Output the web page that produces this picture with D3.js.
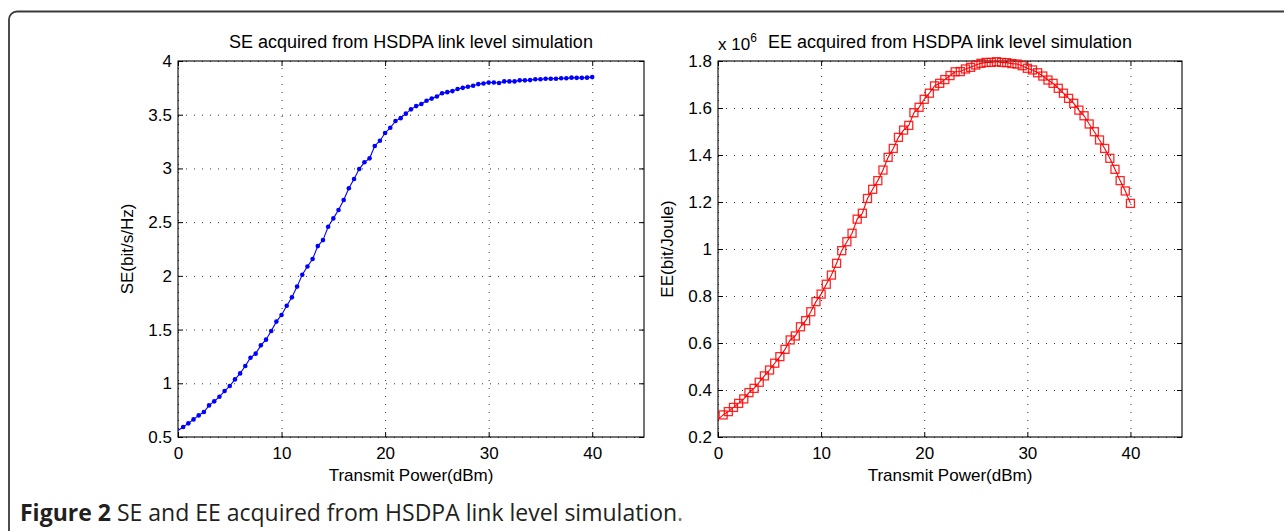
<!DOCTYPE html>
<html>
<head>
<meta charset="utf-8">
<script src="https://cdn.jsdelivr.net/npm/d3@7"></script>
<style>
  html, body { margin: 0; padding: 0; background: #fff; }
  svg { display: block; }
  .tick text { font-family: "Liberation Sans", Arial, sans-serif; font-size: 17px; fill: #000; }
</style>
</head>
<body>
<div id="graph-container"></div>
<script>
// ========== Data ==========
// Transmit power (dBm), one sample every 0.5 dBm
const powerDbm = [
  0, 0.5, 1, 1.5, 2, 2.5, 3, 3.5, 4, 4.5, 5, 5.5, 6, 6.5, 7, 7.5, 8, 8.5, 9, 9.5,
  10, 10.5, 11, 11.5, 12, 12.5, 13, 13.5, 14, 14.5, 15, 15.5, 16, 16.5, 17, 17.5, 18, 18.5, 19, 19.5,
  20, 20.5, 21, 21.5, 22, 22.5, 23, 23.5, 24, 24.5, 25, 25.5, 26, 26.5, 27, 27.5, 28, 28.5, 29, 29.5,
  30, 30.5, 31, 31.5, 32, 32.5, 33, 33.5, 34, 34.5, 35, 35.5, 36, 36.5, 37, 37.5, 38, 38.5, 39, 39.5,
  40
];

// Spectral efficiency (bit/s/Hz)
const seValues = [
  0.56, 0.593, 0.627, 0.664, 0.701, 0.733, 0.794, 0.832, 0.875, 0.928,
  0.975, 1.036, 1.092, 1.161, 1.238, 1.276, 1.353, 1.406, 1.487, 1.574,
  1.636, 1.722, 1.80, 1.90, 2.01, 2.087, 2.157, 2.277, 2.333, 2.457,
  2.535, 2.613, 2.706, 2.815, 2.901, 2.994, 3.057, 3.094, 3.209, 3.258,
  3.330, 3.379, 3.441, 3.468, 3.51, 3.55, 3.58, 3.60, 3.63, 3.65,
  3.67, 3.70, 3.71, 3.72, 3.74, 3.75, 3.76, 3.77, 3.785, 3.79,
  3.80, 3.80, 3.795, 3.81, 3.81, 3.81, 3.82, 3.82, 3.822, 3.83,
  3.83, 3.835, 3.835, 3.835, 3.84, 3.84, 3.845, 3.843, 3.843, 3.845,
  3.85
];

// Energy efficiency (x 10^6 bit/Joule)
const eeValues = [
  0.275, 0.294, 0.308, 0.326, 0.343, 0.362, 0.389, 0.407, 0.433, 0.460,
  0.485, 0.514, 0.542, 0.573, 0.613, 0.630, 0.669, 0.695, 0.733, 0.776,
  0.808, 0.850, 0.889, 0.939, 0.993, 1.031, 1.067, 1.127, 1.152, 1.215,
  1.254, 1.291, 1.336, 1.390, 1.428, 1.475, 1.506, 1.526, 1.580, 1.603,
  1.637, 1.663, 1.694, 1.705, 1.721, 1.738, 1.754, 1.755, 1.766, 1.773,
  1.783, 1.790, 1.794, 1.794, 1.797, 1.794, 1.793, 1.789, 1.787, 1.780,
  1.769, 1.762, 1.750, 1.736, 1.719, 1.705, 1.684, 1.663, 1.641, 1.620,
  1.591, 1.567, 1.532, 1.499, 1.464, 1.428, 1.386, 1.339, 1.291, 1.247,
  1.194
];

// Tick values
const xTicks  = [0, 10, 20, 30, 40];
const seTicks = [0.5, 1, 1.5, 2, 2.5, 3, 3.5, 4];
const eeTicks = [0.2, 0.4, 0.6, 0.8, 1, 1.2, 1.4, 1.6, 1.8];

// ========== Setup ==========
const W = 1284, H = 531;
const fontFam = '"Liberation Sans", Arial, Helvetica, sans-serif';
const plotTop = 61, plotBottom = 437, tickLen = 5;

const svg = d3.select('#graph-container').append('svg')
    .attr('width', W)
    .attr('height', H);

// Frame round the whole figure (cropped on the right and bottom)
svg.append('rect')
    .attr('x', 9).attr('y', 11.5)
    .attr('width', 1400).attr('height', 600)
    .attr('rx', 8)
    .attr('fill', 'none')
    .attr('stroke', '#3a3a3a')
    .attr('stroke-width', 1.8);

function drawPanel(cfg) {
  const x = d3.scaleLinear().domain([0, 45]).range([cfg.left, cfg.right]);
  const y = d3.scaleLinear().domain(cfg.yDomain).range([plotBottom, plotTop]);
  const g = svg.append('g');
  const plotH = plotBottom - plotTop, plotW = cfg.right - cfg.left;

  // dotted grid
  g.append('g')
      .attr('transform', `translate(0,${plotBottom})`)
      .call(d3.axisBottom(x).tickValues(xTicks).tickSize(-plotH).tickFormat(''))
      .call(s => s.select('.domain').remove())
      .selectAll('line')
        .attr('stroke', '#333')
        .attr('stroke-dasharray', '1,7');

  g.append('g')
      .attr('transform', `translate(${cfg.left},0)`)
      .call(d3.axisLeft(y).tickValues(cfg.yTicks).tickSize(-plotW).tickFormat(''))
      .call(s => s.select('.domain').remove())
      .selectAll('line')
        .attr('stroke', '#333')
        .attr('stroke-dasharray', '1,7');

  // axes with inward ticks on all four sides
  const axes = [
    { ax: d3.axisBottom(x).tickValues(xTicks).tickPadding(10), t: `translate(0,${plotBottom})` },
    { ax: d3.axisTop(x).tickValues(xTicks).tickFormat(''), t: `translate(0,${plotTop})` },
    { ax: d3.axisLeft(y).tickValues(cfg.yTicks).tickPadding(6).tickFormat(d => String(d)), t: `translate(${cfg.left},0)` },
    { ax: d3.axisRight(y).tickValues(cfg.yTicks).tickFormat(''), t: `translate(${cfg.right},0)` }
  ];
  axes.forEach(a => {
    g.append('g')
        .attr('transform', a.t)
        .call(a.ax.tickSize(-tickLen))
        .call(s => s.select('.domain').remove())
        .selectAll('line')
          .attr('stroke', '#000');
  });

  // box
  g.append('rect')
      .attr('x', cfg.left).attr('y', plotTop)
      .attr('width', plotW).attr('height', plotH)
      .attr('fill', 'none')
      .attr('stroke', '#000')
      .attr('stroke-width', 1.1);

  const pts = powerDbm.map((p, i) => ({ p, v: cfg.values[i] }));

  // curve
  g.append('path')
      .datum(pts)
      .attr('fill', 'none')
      .attr('stroke', cfg.color)
      .attr('stroke-width', 1.1)
      .attr('d', d3.line().x(d => x(d.p)).y(d => y(d.v)));

  // markers (the first sample sits on the axis and shows none)
  const mk = pts.slice(1);
  if (cfg.marker === 'dot') {
    g.selectAll('circle.mk')
      .data(mk)
      .enter()
      .append('circle')
        .attr('class', 'mk')
        .attr('cx', d => x(d.p))
        .attr('cy', d => y(d.v))
        .attr('r', 2.3)
        .attr('fill', cfg.color);
  } else {
    g.selectAll('rect.mk')
      .data(mk)
      .enter()
      .append('rect')
        .attr('class', 'mk')
        .attr('x', d => x(d.p) - 4)
        .attr('y', d => y(d.v) - 4)
        .attr('width', 8).attr('height', 8)
        .attr('fill', 'none')
        .attr('stroke', cfg.color)
        .attr('stroke-opacity', 0.85)
        .attr('stroke-width', 1.3);
  }

  // title
  g.append('text')
      .attr('x', (cfg.left + cfg.right) / 2)
      .attr('y', 48)
      .attr('text-anchor', 'middle')
      .style('font-family', fontFam)
      .style('font-size', '18px')
      .text(cfg.title);

  // x label
  g.append('text')
      .attr('x', (cfg.left + cfg.right) / 2)
      .attr('y', 481)
      .attr('text-anchor', 'middle')
      .style('font-family', fontFam)
      .style('font-size', '17px')
      .text('Transmit Power(dBm)');

  // y label
  g.append('text')
      .attr('transform', `translate(${cfg.left - 45},${(plotTop + plotBottom) / 2}) rotate(-90)`)
      .attr('text-anchor', 'middle')
      .style('font-family', fontFam)
      .style('font-size', '17px')
      .text(cfg.yLabel);

  // exponent label
  if (cfg.exponent) {
    const ex = g.append('text')
        .attr('x', cfg.left)
        .attr('y', 50)
        .style('font-family', fontFam)
        .style('font-size', '17px')
        .text('x 10');
    ex.append('tspan')
        .attr('dy', -8)
        .style('font-size', '12px')
        .text(cfg.exponent);
  }
}

drawPanel({
  left: 178, right: 644,
  yDomain: [0.5, 4], yTicks: seTicks,
  values: seValues, color: '#0000ff', marker: 'dot',
  title: 'SE acquired from HSDPA link level simulation',
  yLabel: 'SE(bit/s/Hz)'
});

drawPanel({
  left: 718, right: 1182,
  yDomain: [0.2, 1.8], yTicks: eeTicks,
  values: eeValues, color: '#ff0000', marker: 'square',
  title: 'EE acquired from HSDPA link level simulation',
  yLabel: 'EE(bit/Joule)',
  exponent: '6'
});

// ========== Caption ==========
const cap = svg.append('text')
    .attr('x', 20)
    .attr('y', 521)
    .style('font-family', '"Open Sans", Lato, sans-serif')
    .style('font-size', '23px')
    .attr('fill', '#231f20');
cap.append('tspan').style('font-weight', 'bold').text('Figure 2');
cap.append('tspan').text(' SE and EE acquired from HSDPA link level simulation');
cap.append('tspan').attr('fill', '#777').text('.');
</script>
</body>
</html>
